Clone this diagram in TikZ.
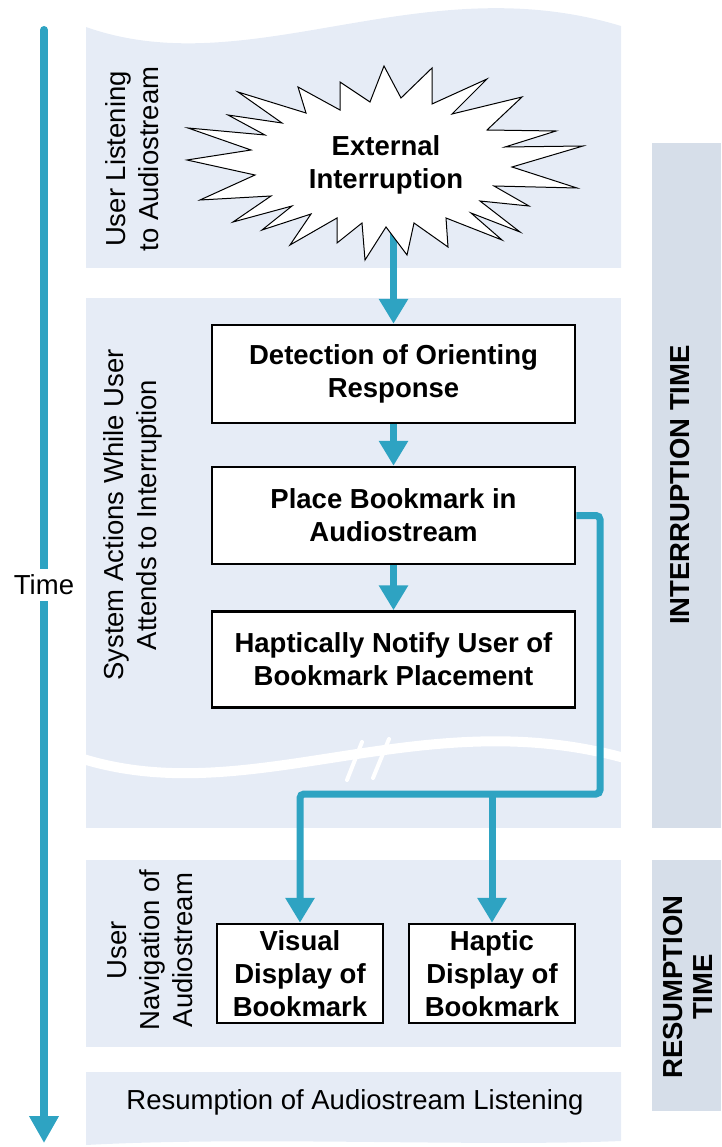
\documentclass[tikz,border=0pt]{standalone}
\usepackage{fontspec}
\setmainfont{Liberation Sans}
\usetikzlibrary{arrows.meta,calc}
\definecolor{flow}{RGB}{46,163,194}
\definecolor{band}{RGB}{230,236,246}
\definecolor{phase}{RGB}{214,222,233}
\pgfdeclarelayer{bg}
\pgfdeclarelayer{conn}
\pgfsetlayers{bg,conn,main}

\begin{document}
\begin{tikzpicture}[x=1pt,y=-1pt,
  txt/.style={font=\fontsize{27.5pt}{33pt}\selectfont, align=center, inner sep=0pt},
  boldtxt/.style={font=\fontsize{27.5pt}{33pt}\selectfont\bfseries, align=center, inner sep=0pt},
  stepbox/.style={boldtxt, draw=black, line width=2.5pt, fill=white},
  wide/.style={minimum width=363pt},
  narrow/.style={minimum width=166pt, minimum height=99pt},
  flowline/.style={draw=flow, line width=7pt},
  flowarrow/.style={flowline, -{Triangle[width=28pt,length=25pt]}},
]
\useasboundingbox (0,0) rectangle (721,1147);

% ---- background bands ----
\begin{pgfonlayer}{bg}
  \fill[band] (86,27) .. controls (250,85) and (420,-35) .. (621,26)
              -- (621,268) -- (86,268) -- cycle;
  \fill[band] (86,298) rectangle (621,828);
  \fill[band] (86,860) rectangle (621,1047);
  \fill[band] (86,1072) -- (621,1072) -- (621,1141)
              .. controls (480,1147) and (250,1136) .. (86,1145) -- cycle;
  % time break inside the second band
  \begin{scope}
    \clip (86,298) rectangle (621,828);
    \draw[white, line width=10pt] (80,758) .. controls (250,812) and (420,700) .. (628,759);
  \end{scope}
  \draw[white, line width=4pt, line cap=round] (347,780) -- (362,742) (373,778) -- (389,739);
  % phase bars on the right
  \fill[phase] (652,143) rectangle (721,828);
  \fill[phase] (652,860) rectangle (721,1111);
\end{pgfonlayer}

% ---- time axis ----
\coordinate (ttop) at (44,30);
\coordinate (tbot) at (44,1143);
\begin{pgfonlayer}{conn}
  \draw[draw=flow, line width=8pt, line cap=round, -{Triangle[width=28pt,length=27pt]}] (ttop) -- (tbot);
\end{pgfonlayer}
\node[txt, fill=white, inner xsep=2pt, inner ysep=6pt] (time) at (44,585) {Time};

% ---- band labels ----
\node[txt, rotate=90] (lablisten) at (132,159) {User Listening\\to Audiostream};
\node[txt, rotate=90] (labsystem) at (133,515) {System Actions While User\\Attends to Interruption};
\node[txt, rotate=90] (labnav) at (150,950) {User\\Navigation of\\Audiostream};
\node[txt] (labresume) at (355,1102) {Resumption of Audiostream Listening};
\node[boldtxt, rotate=90] (labint) at (680,485) {INTERRUPTION TIME};
\node[boldtxt, rotate=90, font=\fontsize{27.5pt}{30pt}\selectfont\bfseries] (labres) at (688,987) {RESUMPTION\\TIME};

% ---- interruption starburst ----
\draw[fill=white, line width=1pt, line join=miter]
  (384,66) -- (401,98) -- (432,68) -- (432,104) -- (487,79) -- (452,114)
  -- (522,97) -- (487,130) -- (556,131) -- (505,147) -- (583,146) -- (512,167)
  -- (577,188) -- (494,186) -- (529,206) -- (480,201) -- (520,232) -- (471,213)
  -- (502,240) -- (446,218) -- (448,247) -- (414,223) -- (407,255) -- (386,227)
  -- (365,260) -- (362,223) -- (337,243) -- (337,218) -- (290,245) -- (311,214)
  -- (262,230) -- (292,206) -- (233,222) -- (271,196) -- (200,200) -- (255,175)
  -- (187,160) -- (251,150) -- (188,128) -- (265,135) -- (228,115) -- (282,123)
  -- (238,92) -- (306,113) -- (298,87) -- (340,110) -- (340,82) -- (370,102) -- cycle;
\node[boldtxt] (burst) at (386,165) {External\\Interruption};

% ---- process boxes ----
\node[stepbox, wide, minimum height=98pt] (detect) at (393.5,374) {Detection of Orienting\\Response};
\node[stepbox, wide, minimum height=97pt] (place) at (393.5,515.5) {Place Bookmark in\\Audiostream};
\node[stepbox, wide, minimum height=96pt] (notify) at (393.5,659.5) {Haptically Notify User of\\Bookmark Placement};
\node[stepbox, narrow] (visual) at (300,973.5) {Visual\\Display of\\Bookmark};
\node[stepbox, narrow] (haptic) at (492,973.5) {Haptic\\Display of\\Bookmark};

% ---- connectors ----
\coordinate (jr) at (600,794);
\coordinate (jl) at (300,794);
\begin{pgfonlayer}{conn}
  \draw[flowarrow] (burst.south -| detect.north) -- (detect.north);
  \draw[flowarrow] (detect) -- (place);
  \draw[flowarrow] (place) -- (notify);
  \draw[flowarrow, rounded corners=4pt] (place.east) -- (place.east -| jr) -- (jr) -- (jl) -- (visual.north);
  \draw[flowarrow] (haptic.north |- jr) -- (haptic.north);
\end{pgfonlayer}
\end{tikzpicture}
\end{document}
